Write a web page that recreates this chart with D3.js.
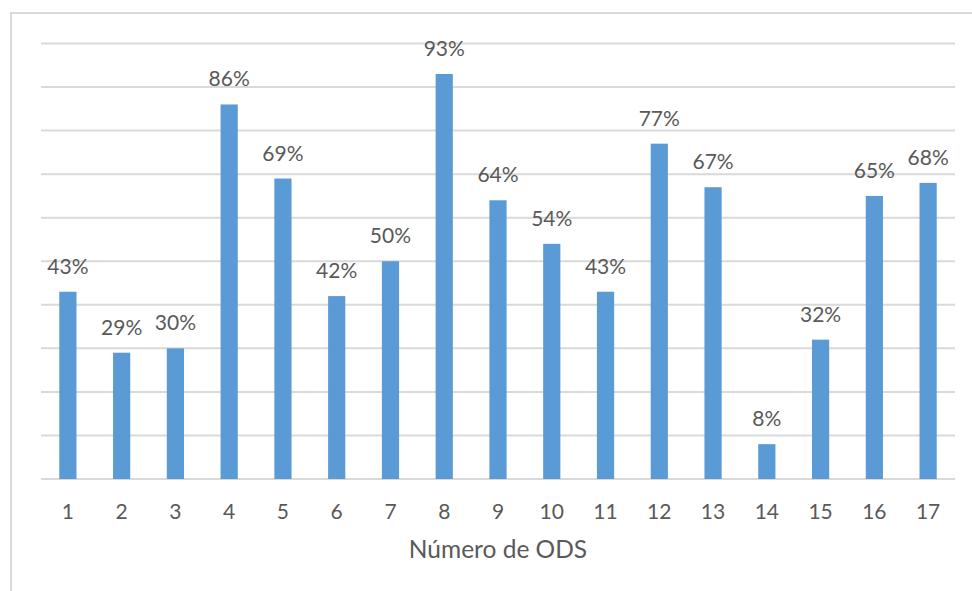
<!DOCTYPE html>
<html>
<head>
<meta charset="utf-8">
<script src="https://cdn.jsdelivr.net/npm/d3@7"></script>
<style>
  body { margin: 0; background: #fff; }
  svg { display: block; font-family: Lato, "Open Sans", sans-serif; }
</style>
</head>
<body>
<svg id="chart" width="972" height="591"></svg>
<script>
// data
var ods = ["1","2","3","4","5","6","7","8","9","10","11","12","13","14","15","16","17"];
var percent = [43, 29, 30, 86, 69, 42, 50, 93, 64, 54, 43, 77, 67, 8, 32, 65, 68];
var yTicks = [0, 10, 20, 30, 40, 50, 60, 70, 80, 90, 100];
var axisTitle = "Número de ODS";

var svg = d3.select("#chart"),
    width = +svg.attr("width"),
    height = +svg.attr("height");

var margin = {left: 41, right: 17, top: 43.5, bottom: 112};

// outer frame
svg.append("rect")
    .attr("x", 11).attr("y", 13)
    .attr("width", 962).attr("height", 600)
    .attr("fill", "none")
    .attr("stroke", "#d9d9d9")
    .attr("stroke-width", 2);

var x = d3.scaleBand()
    .domain(ods)
    .range([margin.left, width - margin.right])
    .paddingInner(0.68)
    .paddingOuter(0.34);

var y = d3.scaleLinear()
    .domain([0, 100])
    .range([height - margin.bottom, margin.top]);

// gridlines
svg.append("g").selectAll("line")
    .data(yTicks)
    .enter().append("line")
    .attr("x1", margin.left)
    .attr("x2", width - margin.right)
    .attr("y1", function (d) { return y(d); })
    .attr("y2", function (d) { return y(d); })
    .attr("stroke", "#d9d9d9")
    .attr("stroke-width", 2);

// bars
svg.append("g").selectAll("rect")
    .data(percent)
    .enter().append("rect")
    .attr("x", function (d, i) { return x(ods[i]); })
    .attr("y", function (d) { return y(d); })
    .attr("width", x.bandwidth())
    .attr("height", function (d) { return y(0) - y(d); })
    .attr("fill", "#5b9bd5");

// value labels
svg.append("g").selectAll("text")
    .data(percent)
    .enter().append("text")
    .attr("x", function (d, i) { return x(ods[i]) + x.bandwidth() / 2; })
    .attr("y", function (d) { return y(d) - 18; })
    .attr("text-anchor", "middle")
    .attr("font-size", 21)
    .attr("fill", "#595959")
    .text(function (d) { return d + "%"; });

// x axis labels
var xAxis = d3.axisBottom(x).tickSize(0).tickPadding(0);
var gx = svg.append("g")
    .attr("transform", "translate(0," + y(0) + ")")
    .call(xAxis);
gx.select(".domain").remove();
gx.selectAll("text")
    .attr("dy", null)
    .attr("y", 40)
    .attr("font-size", 21)
    .attr("font-family", "Lato, 'Open Sans', sans-serif")
    .attr("fill", "#595959");

// axis title
svg.append("text")
    .attr("x", (margin.left + width - margin.right) / 2)
    .attr("y", 558)
    .attr("text-anchor", "middle")
    .attr("font-size", 24.5)
    .attr("fill", "#595959")
    .text(axisTitle);
</script>
</body>
</html>
